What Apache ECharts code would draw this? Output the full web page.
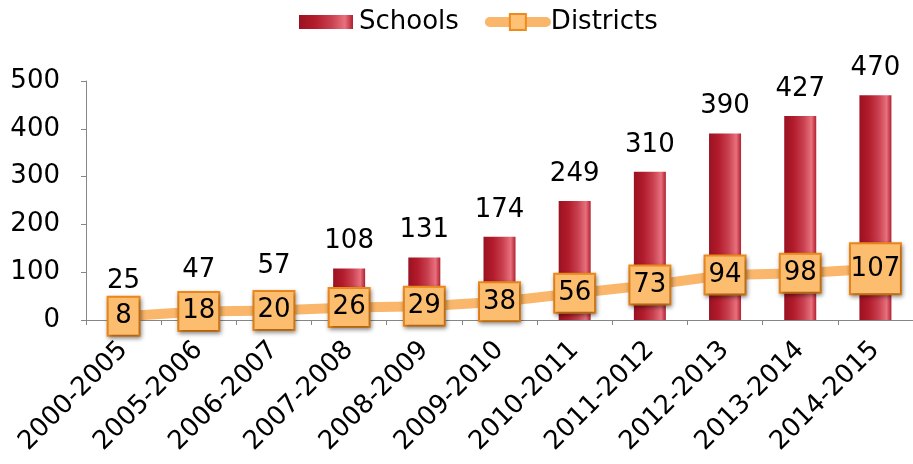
<!DOCTYPE html>
<html><head><meta charset="utf-8">
<script src="https://cdn.jsdelivr.net/npm/echarts@6/dist/echarts.min.js"></script>
<style>html,body{margin:0;padding:0;background:#fff}#c{width:913px;height:464px}</style>
</head><body><div id="c"></div>
<script>
const categories = ['2000-2005','2005-2006','2006-2007','2007-2008','2008-2009','2009-2010','2010-2011','2011-2012','2012-2013','2013-2014','2014-2015'];
const schools = [25, 47, 57, 108, 131, 174, 249, 310, 390, 427, 470];
const districts = [8, 18, 20, 26, 29, 38, 56, 73, 94, 98, 107];
const yTicks = [0, 100, 200, 300, 400, 500];

const FONT = '"DejaVu Sans", Verdana, sans-serif';
const FS = 26;
const chart = echarts.init(document.getElementById('c'), null, {renderer: 'canvas'});
const barGrad = new echarts.graphic.LinearGradient(0, 0, 1, 0, [
  {offset: 0, color: '#9a1222'},
  {offset: 0.3, color: '#b31c2c'},
  {offset: 0.6, color: '#c8404f'},
  {offset: 0.85, color: '#e8707d'},
  {offset: 1, color: '#b02030'}
]);
// label box size depends on the number of digits
function boxFor(v) {
  const n = String(v).length;
  const w = n === 1 ? 28 : (n === 2 ? 37 : 47);
  const h = n === 3 ? 47 : 35;
  return {width: w, height: h, lineHeight: h};
}
chart.setOption({
  animation: false,
  textStyle: {fontFamily: FONT},
  legend: {
    top: 4, left: 294, itemGap: 26, itemWidth: 56, itemHeight: 20,
    textStyle: {fontSize: FS, color: '#000', fontFamily: FONT},
    data: [
      {name: 'Schools', icon: 'path://M0,0M0,3h54v14h-54zM54,20'},
      {name: 'Districts', lineStyle: {width: 10, color: '#fab66a', cap: 'round'}}
    ]
  },
  grid: {left: 86, right: 0, top: 81, bottom: 144, containLabel: false},
  xAxis: {
    type: 'category', data: categories,
    axisLine: {lineStyle: {color: '#868686', width: 1}},
    axisTick: {show: true, length: 5, lineStyle: {color: '#868686'}},
    axisLabel: {rotate: 45, fontSize: FS, color: '#000', fontFamily: FONT, margin: 26, interval: 0}
  },
  yAxis: {
    type: 'value', min: yTicks[0], max: yTicks[yTicks.length - 1], interval: 100,
    axisLine: {show: true, lineStyle: {color: '#868686', width: 1}},
    axisTick: {show: true, length: 5, lineStyle: {color: '#868686'}},
    splitLine: {show: false},
    axisLabel: {fontSize: FS, color: '#000', fontFamily: FONT, margin: 26}
  },
  series: [
    {
      name: 'Schools', type: 'bar', barWidth: 32, data: schools,
      itemStyle: {color: barGrad},
      label: {show: true, position: 'top', distance: 14, fontSize: FS, color: '#000', fontFamily: FONT},
      z: 2
    },
    {
      name: 'Districts', type: 'line',
      data: districts.map(v => ({value: v, label: boxFor(v)})),
      symbol: 'rect', symbolSize: 16,
      lineStyle: {color: '#fab66a', width: 10},
      itemStyle: {color: '#fdc276', borderColor: '#ef8a1c', borderWidth: 2},
      label: {
        show: true, position: 'inside', fontSize: FS, color: '#000', fontFamily: FONT,
        align: 'center', verticalAlign: 'middle',
        backgroundColor: '#fdbd6e', borderColor: '#ef8a1c', borderWidth: 2,
        padding: [2, 1, 0, 1],
        shadowColor: 'rgba(0,0,0,0.35)', shadowBlur: 4, shadowOffsetX: 1, shadowOffsetY: 2
      },
      z: 3
    }
  ]
});
</script></body></html>
